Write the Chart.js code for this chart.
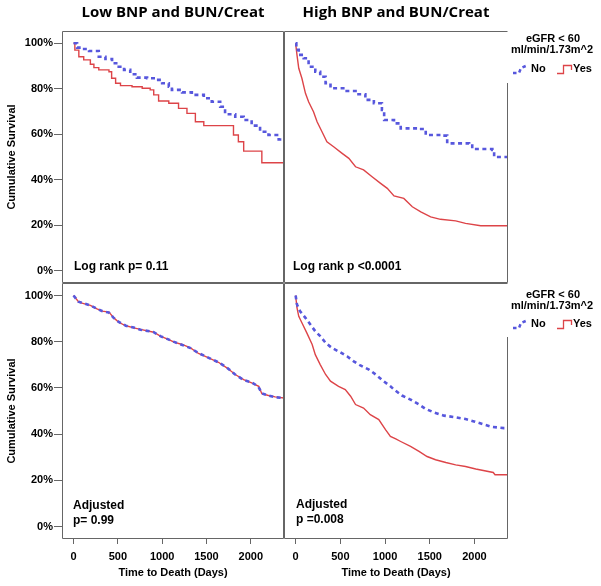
<!DOCTYPE html>
<html>
<head>
<meta charset="utf-8">
<script src="https://cdn.jsdelivr.net/npm/chart.js@4.4.1/dist/chart.umd.min.js"></script>
<style>
  html, body { margin: 0; padding: 0; background: #fff; }
  #wrap { position: relative; width: 601px; height: 586px; }
  canvas { position: absolute; left: 0; top: 0; }
</style>
</head>
<body>
<div id="wrap">
  <canvas id="tl" width="601" height="586"></canvas>
  <canvas id="tr" width="601" height="586"></canvas>
  <canvas id="bl" width="601" height="586"></canvas>
  <canvas id="br" width="601" height="586"></canvas>
</div>
<script>
// Kaplan-Meier curves, survival in %, time in days
const xTicks = [0, 500, 1000, 1500, 2000];
const yTicks = [0, 20, 40, 60, 80, 100];

// Low BNP and BUN/Creat, log rank
const lowNoDays = [0, 40, 100, 175, 285, 360, 435, 510, 570, 640, 715, 830, 905, 1000, 1075, 1110, 1225, 1335, 1470, 1560, 1655, 1710, 1825, 1920, 2010, 2105, 2200, 2315, 2375];
const lowNoSurv = [100, 98.1, 97.5, 96.6, 94.1, 93.1, 91.2, 89.7, 88.3, 86.4, 84.9, 84.6, 83.9, 82.4, 80.9, 79.5, 78.4, 77.3, 75.8, 74.3, 72.1, 68.8, 67.7, 66.3, 63.8, 61.1, 59.7, 57.7, 57.7];
const lowYesDays = [0, 15, 60, 115, 190, 230, 285, 400, 430, 475, 530, 660, 775, 865, 905, 960, 1075, 1185, 1280, 1375, 1470, 1770, 1805, 1860, 1920, 2125, 2375];
const lowYesSurv = [100, 97, 94.1, 92.7, 90.8, 89.3, 88.3, 87.5, 84.6, 82.4, 81.4, 80.9, 80.2, 79.5, 77.3, 74.6, 73.6, 71.4, 69.2, 65.5, 63.8, 63.8, 59.7, 56.7, 52.6, 47.5, 47.5];

// High BNP and BUN/Creat, log rank
const highNoDays = [0, 8, 35, 90, 145, 220, 275, 335, 390, 555, 670, 780, 875, 965, 990, 1100, 1175, 1360, 1455, 1620, 1695, 1940, 1975, 2200, 2220, 2375];
const highNoSurv = [100, 97.1, 94.9, 93.4, 89.7, 87.5, 85.3, 82.4, 80.2, 79.0, 77.6, 75.1, 73.6, 70.7, 66.3, 64.8, 62.6, 62.3, 59.7, 59.4, 56.0, 55.7, 53.5, 53.1, 50.0, 50.0];
const highYesDays = [0, 15, 35, 70, 110, 145, 200, 240, 295, 350, 425, 520, 595, 670, 760, 855, 950, 1025, 1100, 1210, 1305, 1400, 1510, 1620, 1790, 1900, 2070, 2375];
const highYesSurv = [100, 94.9, 89.0, 84.6, 78.0, 74.3, 69.9, 65.5, 61.1, 56.7, 54.5, 51.6, 49.4, 45.7, 44.3, 41.3, 38.4, 36.2, 32.9, 31.8, 28.1, 25.9, 23.7, 22.6, 21.9, 20.8, 19.8, 19.8];

// Low BNP and BUN/Creat, adjusted
const adjLowNoDays = [0, 55, 115, 195, 265, 320, 400, 450, 510, 590, 680, 755, 900, 985, 1070, 1135, 1220, 1320, 1415, 1520, 1640, 1730, 1820, 1915, 2015, 2085, 2125, 2205, 2270, 2375];
const adjLowNoSurv = [100, 97.3, 96.6, 95.6, 94.3, 93.3, 92.6, 90.4, 88.6, 86.9, 86.1, 85.2, 84.2, 82.3, 81.0, 79.9, 78.7, 77.2, 75.0, 73.1, 71.0, 68.8, 65.9, 63.5, 62.3, 60.6, 57.6, 56.6, 56.0, 55.6];
const adjLowYesDays = [0, 60, 115, 190, 265, 325, 400, 455, 510, 585, 680, 755, 905, 980, 1075, 1135, 1225, 1320, 1410, 1525, 1635, 1730, 1825, 1920, 2010, 2090, 2125, 2200, 2275, 2375];
const adjLowYesSurv = [100, 97.1, 96.5, 95.7, 94.2, 93.2, 92.8, 90.3, 88.4, 87.0, 86.0, 85.3, 84.1, 82.4, 80.9, 79.8, 78.8, 77.3, 74.9, 73.0, 71.1, 68.7, 65.8, 63.6, 62.2, 60.7, 57.5, 56.7, 56.1, 55.6];

// High BNP and BUN/Creat, adjusted
const adjHighNoDays = [0, 15, 50, 110, 165, 220, 275, 335, 405, 500, 575, 650, 725, 820, 895, 985, 1060, 1100, 1190, 1285, 1380, 1455, 1545, 1660, 1770, 1900, 1995, 2110, 2200, 2330, 2375];
const adjHighNoSurv = [100, 96.1, 93.2, 90.3, 87.4, 84.5, 82.4, 79.5, 77.3, 75.4, 73.7, 71.5, 69.7, 67.9, 65.8, 62.9, 60.7, 59.3, 56.7, 54.9, 52.8, 50.9, 49.4, 48.0, 47.4, 46.5, 45.5, 44.1, 43.1, 42.6, 42.6];
const adjHighYesDays = [0, 15, 35, 70, 125, 185, 220, 275, 335, 390, 480, 555, 615, 670, 760, 835, 930, 1005, 1060, 1120, 1175, 1285, 1380, 1470, 1565, 1680, 1790, 1900, 2015, 2210, 2230, 2375];
const adjHighYesSurv = [100, 94.7, 91.0, 88.2, 83.8, 78.8, 74.4, 70.1, 65.8, 62.9, 60.7, 59.3, 56.4, 52.8, 51.3, 48.4, 46.3, 41.9, 39.0, 37.9, 36.8, 34.7, 32.5, 30.3, 28.9, 27.7, 26.7, 26.0, 24.9, 23.4, 22.4, 22.4];

const BLUE = "#5757dd";
const RED = "#dd4448";
const FRAME = "#666";
const FONT = "'Liberation Sans', Arial, sans-serif";
const W = 601, H = 586;

function toPoints(days, surv) {
  return days.map((d, i) => ({ x: d, y: surv[i] }));
}

// draws frame, panel title, notes and the legend
const decoPlugin = {
  id: "deco",
  afterDraw(chart, args, p) {
    const ctx = chart.ctx;
    const a = chart.chartArea;
    const L = Math.round(a.left) + 0.5, R = Math.round(a.right) - 0.5;
    const T = Math.round(a.top) + 0.5, B = Math.round(a.bottom) - 0.5;
    ctx.save();
    ctx.strokeStyle = FRAME;
    ctx.lineWidth = 1;
    ctx.beginPath();
    ctx.moveTo(R, p.legendY ? p.gapEnd : T);
    ctx.lineTo(R, B);
    ctx.lineTo(L, B);
    ctx.lineTo(L, T);
    ctx.lineTo(R, T);
    ctx.stroke();

    ctx.fillStyle = "#000";
    if (p.title) {
      ctx.font = "bold 15px 'Open Sans', sans-serif";
      ctx.textAlign = "center";
      ctx.textBaseline = "middle";
      ctx.fillText(p.title, (a.left + a.right) / 2, 13);
    }

    ctx.font = "bold 12px " + FONT;
    ctx.textAlign = "left";
    ctx.textBaseline = "middle";
    p.notes.forEach(n => ctx.fillText(n.text, n.x, n.y));

    if (p.legendY) {
      const [y1, y2, y3] = p.legendY;
      ctx.font = "bold 11px " + FONT;
      ctx.textAlign = "center";
      ctx.fillText("eGFR < 60", 553, y1);
      ctx.fillText("ml/min/1.73m^2", 552, y2);
      ctx.textAlign = "left";
      ctx.fillText("No", 531, y3);
      ctx.fillText("Yes", 573, y3);
      // sample for No
      ctx.strokeStyle = BLUE;
      ctx.lineWidth = 2.5;
      ctx.setLineDash([3.5, 3]);
      ctx.beginPath();
      ctx.moveTo(513, y3 + 4);
      ctx.lineTo(519, y3 + 4);
      ctx.lineTo(521, y3 - 1);
      ctx.lineTo(528, y3 - 4);
      ctx.stroke();
      // sample for Yes
      ctx.setLineDash([]);
      ctx.strokeStyle = RED;
      ctx.lineWidth = 1.3;
      ctx.beginPath();
      ctx.moveTo(557, y3 + 4.5);
      ctx.lineTo(563.5, y3 + 4.5);
      ctx.lineTo(563.5, y3 - 3.5);
      ctx.lineTo(571.5, y3 - 3.5);
      ctx.lineTo(571.5, y3 + 1);
      ctx.stroke();
    }
    ctx.restore();
  }
};

function makePanel(p) {
  const [l, t, r, b] = p.area;
  const tickFont = { family: FONT, size: 11, weight: "bold" };
  new Chart(document.getElementById(p.id), {
    type: "line",
    data: {
      datasets: [
        {
          label: "No",
          data: toPoints(p.noDays, p.noSurv),
          borderColor: BLUE,
          borderWidth: 2.6,
          borderDash: [4, 3.5],
          stepped: p.noStepped,
          pointRadius: 0,
          fill: false
        },
        {
          label: "Yes",
          data: toPoints(p.yesDays, p.yesSurv),
          borderColor: RED,
          borderWidth: 1.4,
          stepped: p.yesStepped,
          pointRadius: 0,
          fill: false
        }
      ]
    },
    options: {
      responsive: false,
      animation: false,
      events: [],
      layout: {
        padding: {
          left: p.showY ? 0 : l,
          top: t,
          right: W - r,
          bottom: p.showX ? 0 : H - b
        }
      },
      plugins: {
        legend: { display: false },
        tooltip: { enabled: false },
        deco: p
      },
      scales: {
        x: {
          type: "linear",
          min: -130,
          max: 2375,
          display: p.showX,
          afterBuildTicks: s => { s.ticks = xTicks.map(v => ({ value: v })); },
          afterFit: s => { if (p.showX) s.height = H - b; },
          grid: { drawOnChartArea: false, drawTicks: true, tickLength: 5, color: FRAME },
          border: { display: false },
          ticks: { color: "#000", font: tickFont, padding: 6, maxRotation: 0, autoSkip: false, callback: v => String(v) },
          title: {
            display: true,
            text: "Time to Death (Days)",
            color: "#000",
            font: tickFont,
            padding: { top: 0, bottom: 6 }
          }
        },
        y: {
          min: -5.4,
          max: 105.4,
          display: p.showY,
          afterBuildTicks: s => { s.ticks = yTicks.map(v => ({ value: v })); },
          afterFit: s => { if (p.showY) s.width = l; },
          grid: { drawOnChartArea: false, drawTicks: true, tickLength: 8, color: FRAME },
          border: { display: false },
          ticks: { color: "#000", font: tickFont, padding: 1, callback: v => v + "%" },
          title: {
            display: true,
            text: "Cumulative Survival",
            color: "#000",
            font: tickFont,
            padding: { top: 5, bottom: 0 }
          }
        }
      }
    },
    plugins: [decoPlugin]
  });
}

makePanel({
  id: "tl", area: [62, 31, 284, 283], showY: true, showX: false,
  title: "Low BNP and BUN/Creat",
  notes: [{ text: "Log rank p= 0.11", x: 74, y: 267 }],
  noStepped: true, yesStepped: true,
  noDays: lowNoDays, noSurv: lowNoSurv, yesDays: lowYesDays, yesSurv: lowYesSurv
});
makePanel({
  id: "tr", area: [284, 31, 508, 283], showY: false, showX: false,
  title: "High BNP and BUN/Creat",
  notes: [{ text: "Log rank p <0.0001", x: 293, y: 267 }],
  legendY: [39, 50, 69], gapEnd: 83,
  noStepped: true, yesStepped: false,
  noDays: highNoDays, noSurv: highNoSurv, yesDays: highYesDays, yesSurv: highYesSurv
});
makePanel({
  id: "bl", area: [62, 283, 284, 539], showY: true, showX: true,
  notes: [{ text: "Adjusted", x: 73, y: 506 }, { text: "p= 0.99", x: 73, y: 521 }],
  noStepped: false, yesStepped: false,
  noDays: adjLowNoDays, noSurv: adjLowNoSurv, yesDays: adjLowYesDays, yesSurv: adjLowYesSurv
});
makePanel({
  id: "br", area: [284, 283, 508, 539], showY: false, showX: true,
  notes: [{ text: "Adjusted", x: 296, y: 505 }, { text: "p =0.008", x: 296, y: 520 }],
  legendY: [295, 306, 324], gapEnd: 337,
  noStepped: false, yesStepped: false,
  noDays: adjHighNoDays, noSurv: adjHighNoSurv, yesDays: adjHighYesDays, yesSurv: adjHighYesSurv
});
</script>
</body>
</html>
